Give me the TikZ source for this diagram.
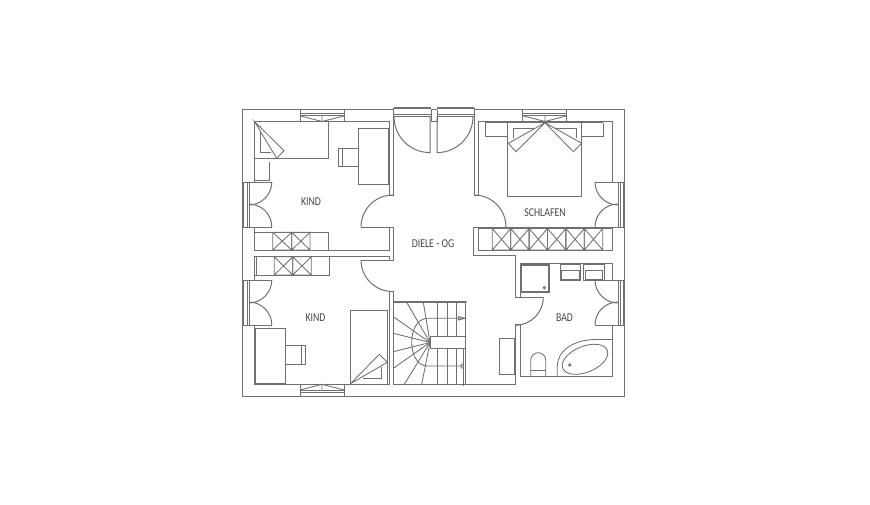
\documentclass[tikz,border=0pt]{standalone}
\usepackage{fontspec}
\setmainfont[FakeStretch=0.82]{Carlito}
\definecolor{wall}{HTML}{707070}
\tikzset{
  plan/.style={draw=wall,line width=1pt,line join=miter},
  fine/.style={draw=wall,line width=0.85pt},
  heavy/.style={draw=wall,line width=1.7pt},
  roomlabel/.style={text=black!72,font=\fontsize{12}{13}\selectfont,inner sep=0pt}
}
\newcommand{\xcell}[4]{\draw[fine] (#1,#2) rectangle (#3,#4) (#1,#2) -- (#3,#4) (#1,#4) -- (#3,#2);}
\begin{document}
\begin{tikzpicture}[x=1pt,y=-1pt]
\useasboundingbox (0,0) rectangle (870,504);
\fill[white] (0,0) rectangle (870,504);
% outer walls
\draw[plan] (393.5,109.5) -- (242.5,109.5) -- (242.5,396.5) -- (624.5,396.5) -- (624.5,109.5) -- (474,109.5);
\draw[plan] (431,109.5) -- (437,109.5) (431,109.5) -- (431,121.5) -- (437,121.5) -- (437,109.5);
% upper-left room
\draw[plan] (254.5,182) -- (254.5,121.5) -- (389,121.5) -- (389,195) -- (393.5,195);
\draw[plan] (393.5,107.5) -- (393.5,195);
\draw[plan] (254.5,227) -- (254.5,250) -- (389,250) -- (389,227) -- (361,227);
\draw[plan] (361,227) arc[start angle=180,end angle=270,radius=32];
\draw[plan] (389,227) -- (393.5,227) -- (393.5,260) -- (361,260);
\draw[plan] (361,260) arc[start angle=180,end angle=90,radius=31.5];
% lower-left room
\draw[plan] (254.5,280) -- (254.5,256.8) -- (389,256.8) -- (389,260);
\draw[plan] (254.5,325) -- (254.5,384.3) -- (389,384.3) -- (389,291.5) -- (393.5,291.5) -- (393.5,384.3) -- (515,384.3) -- (515,324);
% upper-right room
\draw[plan] (474,107.5) -- (474,195) -- (478.3,195) -- (478.3,121.7) -- (612.7,121.7) -- (612.7,182);
\draw[plan] (474,195) arc[start angle=270,end angle=360,radius=32];
\draw[plan] (612.7,227) -- (612.7,250) -- (478.3,250) -- (478.3,227);
\draw[plan] (612.7,227) -- (473.5,227) -- (473.5,255.5) -- (515,255.5) -- (515,297.3) -- (543.3,297.3);
% bath
\draw[plan] (543.3,297.3) arc[start angle=0,end angle=90,radius=28];
\draw[plan] (515,324) -- (520,324) -- (520,376.8) -- (612.3,376.8) -- (612.3,325);
\draw[plan] (520,297.3) -- (520,263.6) -- (612.3,263.6) -- (612.3,280);
% top doors
\draw[heavy] (393.5,107.8) -- (431,107.8) (436.7,107.8) -- (474,107.8);
\draw[plan] (393.5,114.3) -- (431,114.3) (393.5,116.3) -- (431,116.3) (436.7,114.3) -- (474,114.3) (436.7,116.3) -- (474,116.3);
\draw[plan] (430,116.3) -- (430,152.6) arc[start angle=90,end angle=180,radius=36];
\draw[plan] (437,116.3) -- (437,152.6) arc[start angle=90,end angle=0,radius=36];
% top windows
\foreach \a/\m/\b in {300/322/344.3,522.7/545/566.7}{
  \draw[plan] (\a,109.5) -- (\a,121.5) (\b,109.5) -- (\b,121.5) (\a,115.8) -- (\b,115.8) (\a,113.6) -- (\b,113.6);
  \draw[fine] (\a,115.8) -- (\m,121.5) -- (\b,115.8) (\m,115.8) -- (\m,121.5);
}
% bottom window
\draw[plan] (300,384.3) -- (300,396.5) (344.3,384.3) -- (344.3,396.5) (300,390) -- (344.3,390) (300,392) -- (344.3,392);
\draw[fine] (300,390) -- (322,384.3) -- (344.3,390) (322,384.3) -- (322,390);
% left windows
\foreach \t in {182,280}{
  \pgfmathsetmacro{\bt}{\t+45}
  \draw[heavy] (243.2,\t) -- (243.2,\bt);
  \draw[plan] (247,\t) -- (247,\bt) (249,\t) -- (249,\bt) (243,\t) -- (271.8,\t) (243,\bt) -- (271.8,\bt);
  \draw[plan] (271.8,\t) arc[start angle=0,end angle=90,radius=23];
  \draw[plan] (271.8,\bt) arc[start angle=0,end angle=-90,radius=23];
}
% right windows
\foreach \t in {182,280}{
  \pgfmathsetmacro{\bt}{\t+45}
  \draw[heavy] (624,\t) -- (624,\bt);
  \draw[plan] (618,\t) -- (618,\bt) (620,\t) -- (620,\bt) (595,\t) -- (624,\t) (595,\bt) -- (624,\bt);
  \draw[plan] (595,\t) arc[start angle=180,end angle=90,radius=23];
  \draw[plan] (595,\bt) arc[start angle=180,end angle=270,radius=23];
}
% wardrobes
\draw[fine] (254.5,232.3) rectangle (328.3,250);
\xcell{272.7}{232.3}{291.7}{250}
\xcell{291.7}{232.3}{310}{250}
\draw[fine] (254.5,256.8) rectangle (329.3,275);
\draw[fine] (256,256.8) -- (256,275);
\xcell{274.3}{256.8}{292.7}{275}
\xcell{292.7}{256.8}{311.3}{275}
\draw[fine] (478.3,228.5) -- (612.7,228.5);
\foreach \i in {0,...,5}{
  \pgfmathsetmacro{\p}{492.3+18.4*\i}
  \pgfmathsetmacro{\q}{492.3+18.4*(\i+1)}
  \xcell{\p}{228.5}{\q}{250}
}
% bed + furniture upper-left
\draw[plan] (254.5,121.5) rectangle (328.5,158.8);
\draw[fine] (260,125.5) -- (260,152.7) -- (270.7,152.7);
\draw[fine,fill=white] (254.5,121.5) -- (284,150.7) -- (276.7,158.3) -- cycle;
\draw[fine] (254.5,158.8) -- (254.5,181) (269.3,162) -- (269.3,180.5) -- (254.5,180.5);
\draw[plan] (358.3,128.3) rectangle (388.3,184);
\draw[fine] (358.3,148.3) -- (338.3,148.3) -- (338.3,166.7) -- (358.3,166.7) (342.3,148.3) -- (342.3,166.7);
% bed + furniture lower-left
\draw[plan] (350.7,310) rectangle (387.7,384);
\draw[fine] (381.7,366.7) -- (381.7,378.3) -- (363.3,378.3);
\draw[fine,fill=white] (350.7,383.5) -- (379.3,354.3) -- (387.3,362.3) -- cycle;
\draw[plan] (255.5,328.3) rectangle (285.7,383.5);
\draw[fine] (285.7,345.7) -- (305.7,345.7) -- (305.7,364) -- (285.7,364) (301.7,345.7) -- (301.7,364);
% double bed
\draw[plan] (507.7,122.7) rectangle (581,196);
\draw[heavy] (485,122.4) -- (603.3,122.4);
\draw[fine] (485,122.5) -- (485,136.7) -- (507.7,136.7) (603.3,122.5) -- (603.3,136.7) -- (581,136.7);
\draw[fine] (513.3,138) -- (513.3,128.3) -- (540,128.3);
\draw[fine] (550,128.3) -- (576,128.3) -- (576,138);
\draw[fine,fill=white] (545,122.7) -- (508.3,143.3) -- (516,151.7) -- cycle;
\draw[fine,fill=white] (545,122.7) -- (581.7,143.3) -- (573.3,151.7) -- cycle;
% stairs
\draw[plan] (393.3,302.3) rectangle (465,384.3);
\draw[plan] (393,301.2) -- (467,301.2);
\draw[plan] (463.8,336.7) -- (463.8,385.5);
\foreach \x in {437.3,447,456.3}{
  \draw[fine] (\x,302.3) -- (\x,336.7) (\x,348.3) -- (\x,384.3);
}
\foreach \a/\b in {423.3/302.3,406.7/302.3,393.3/316.7,393.3/333.3,393.3/351.7,393.3/368.3,404.3/384.3,421.7/384.3}{
  \draw[fine] (\a,\b) -- (430,342.5);
}
\draw[fine] (465,318.3) -- (427,318.3) .. controls (417,319) and (411.7,330) .. (411.7,342) .. controls (411.7,354) and (417,365.5) .. (427,366) -- (463,366);
\draw[plan,fill=white] (430,336.7) rectangle (465,348.3);
\draw[fine] (458.5,316.6) -- (465,318.3) -- (458.5,320) -- cycle;
\draw[fine] (463,363.9) arc[start angle=270,end angle=90,radius=2.2];
% bath fixtures
\draw[plan] (520.7,264) rectangle (549.3,292.7);
\draw[fine] (521.8,265.2) rectangle (548.2,291.5);
\draw[fine] (544.3,287.7) circle[radius=1.2];
\foreach \a in {560,583.3}{
  \draw[plan] (\a,264) rectangle ++(20.7,16);
  \draw[fine] (\a+1.7,270) rectangle ++(17.3,9);
}
\draw[fine] (557.3,376.8) -- (557.3,366) .. controls (557.3,352) and (572,339.5) .. (596,339.5) -- (612.3,339.5);
\draw[fine,rotate around={22:(585,359.3)}] (585,359.3) ellipse[x radius=24,y radius=13];
\draw[fine] (569.7,365) circle[radius=1.2];
\draw[fine] (530.7,376.8) -- (530.7,360.2) arc[start angle=180,end angle=360,radius=7.5] -- (545.7,376.8);
\draw[fine] (530.7,370.7) -- (545.7,370.7);
\draw[plan] (499.3,338.3) rectangle (514.3,374.3);
% labels
\node[roomlabel] (kindA) at (311,201.4) {KIND};
\node[roomlabel] (kindB) at (315.5,317.4) {KIND};
\node[roomlabel] (schlafen) at (545,212.4) {SCHLAFEN};
\node[roomlabel] (diele) at (433,243.6) {DIELE - OG};
\node[roomlabel] (bad) at (564.5,317.4) {BAD};
\end{tikzpicture}
\end{document}
